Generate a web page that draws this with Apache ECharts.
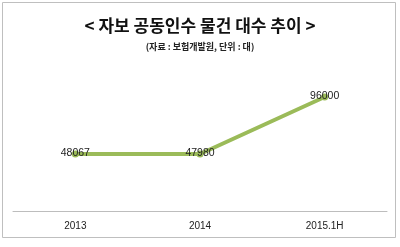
<!DOCTYPE html>
<html><head><meta charset="utf-8">
<script src="https://cdn.jsdelivr.net/npm/echarts@6/dist/echarts.min.js"></script>
<style>html,body{margin:0;padding:0;background:#fff}#c{width:400px;height:247px}</style>
</head><body><div id="c"></div>
<script>
const categories = ['2013', '2014', '2015.1H'];
const values = [48067, 47980, 96000];
const titleText = '< 자보 공동인수 물건 대수 추이 >';
const subtitleText = '(자료 : 보험개발원, 단위 : 대)';

const chart = echarts.init(document.getElementById('c'), null, {renderer: 'canvas'});
chart.setOption({
  backgroundColor: '#fff',
  animation: false,
  graphic: [{
    type: 'rect', shape: {x: 2.5, y: 2.5, width: 393, height: 235},
    style: {fill: 'none', stroke: '#bfbfbf', lineWidth: 1}, silent: true
  }],
  title: {
    text: titleText,
    subtext: subtitleText,
    left: 'center', top: 12, itemGap: 8,
    textStyle: {fontFamily: 'Noto Sans CJK KR', fontSize: 17, fontWeight: 'bold', color: '#111'},
    subtextStyle: {fontFamily: 'Noto Sans CJK KR', fontSize: 9, fontWeight: 'bold', color: '#222'}
  },
  grid: {left: 13, right: 13, top: 68.5, bottom: 36, containLabel: false},
  xAxis: {
    type: 'category', data: categories, boundaryGap: true,
    axisLine: {lineStyle: {color: '#bdbdbd', width: 1}},
    axisTick: {show: false},
    axisLabel: {color: '#222', fontSize: 10, fontFamily: 'Liberation Sans', margin: 10}
  },
  yAxis: {type: 'value', min: 0, max: 120000, show: false, splitLine: {show: false}},
  series: [{
    type: 'line', data: values,
    lineStyle: {color: '#9bbb59', width: 4},
    itemStyle: {color: '#9bbb59'},
    symbol: 'circle', symbolSize: 7,
    label: {show: true, position: 'inside', color: '#222', fontSize: 10.5, fontFamily: 'Liberation Sans', offset: [0, -1]}
  }]
});
</script></body></html>
